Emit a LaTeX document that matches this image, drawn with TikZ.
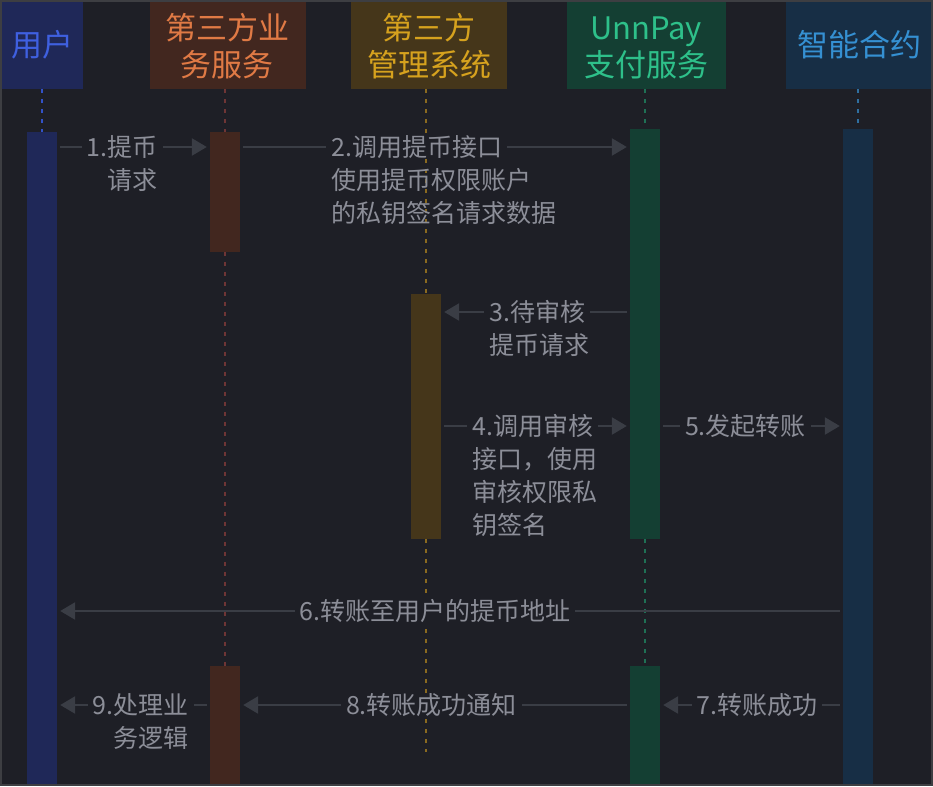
\documentclass[tikz,border=0pt]{standalone}
\usepackage{fontspec}
\setmainfont{Noto Sans CJK SC}
\usetikzlibrary{arrows.meta}
\definecolor{bgc}{HTML}{1E1F26}
\definecolor{cBorder}{HTML}{3D3E42}
\definecolor{cArrow}{HTML}{3A3D45}
\definecolor{cLabel}{HTML}{8C8E98}
\definecolor{cUserFill}{HTML}{1F2858}
\definecolor{cUserText}{HTML}{3F60E0}
\definecolor{cUserDash}{HTML}{3352C8}
\definecolor{cBizFill}{HTML}{42271F}
\definecolor{cBizText}{HTML}{E07A45}
\definecolor{cBizDash}{HTML}{6E3535}
\definecolor{cMgmtFill}{HTML}{45361A}
\definecolor{cMgmtText}{HTML}{D6A21E}
\definecolor{cMgmtDash}{HTML}{8A6A20}
\definecolor{cPayFill}{HTML}{143F33}
\definecolor{cPayText}{HTML}{2EC08A}
\definecolor{cPayDash}{HTML}{1F7055}
\definecolor{cConFill}{HTML}{172E45}
\definecolor{cConText}{HTML}{3590D2}
\definecolor{cConDash}{HTML}{2F6FA0}
\begin{document}
\begin{tikzpicture}[x=1pt,y=-1pt,
  hdr/.style={draw=none, inner sep=0pt, minimum height=89},
  htxt/.style={anchor=base, inner sep=0pt, font=\fontsize{31}{36}\selectfont},
  bar/.style={draw=none, inner sep=0pt, minimum width=30, anchor=north},
  life/.style={line width=2pt, dash pattern=on 4pt off 6pt},
  msg/.style={draw=cArrow, line width=2.5pt, -{Triangle[length=15pt,width=17pt]}, shorten <=3pt, shorten >=3pt},
  lbl/.style={text=cLabel, inner xsep=5pt, inner ysep=0pt, font=\fontsize{25}{33}\selectfont},
  lblf/.style={lbl, fill=bgc}
]
\useasboundingbox (0,0) rectangle (933,786);
\fill[bgc] (0,0) rectangle (933,786);

% headers
\node[hdr, fill=cUserFill, minimum width=83] (hUser) at (41.5,44.5) {};
\node[hdr, fill=cBizFill, minimum width=155.5] (hBiz) at (227.75,44.5) {};
\node[hdr, fill=cMgmtFill, minimum width=155.7] (hMgmt) at (428.85,44.5) {};
\node[hdr, fill=cPayFill, minimum width=159] (hPay) at (646.2,44.5) {};
\node[hdr, fill=cConFill, minimum width=147] (hCon) at (859.5,44.5) {};

\node[htxt, text=cUserText] (tUser) at (42,56.8) {用户};
\node[htxt, text=cBizText] (tBiz) at (227,39.3) {\begin{tabular}[t]{@{}c@{}}第三方业\\务服务\end{tabular}};
\node[htxt, text=cMgmtText] (tMgmt) at (429,39.3) {\begin{tabular}[t]{@{}c@{}}第三方\\管理系统\end{tabular}};
\node[htxt, text=cPayText] (tPay) at (646,39.3) {\begin{tabular}[t]{@{}c@{}}UnnPay\\支付服务\end{tabular}};
\node[htxt, text=cConText] (tCon) at (859,56.8) {智能合约};

% activation bars (nodes)
\node[bar, fill=cUserFill, minimum height=654] (uBar) at (42,132) {};
\node[bar, fill=cBizFill, minimum height=120] (bBar1) at (225,132) {};
\node[bar, fill=cBizFill, minimum height=120] (bBar2) at (225,666) {};
\node[bar, fill=cMgmtFill, minimum height=245] (mBar) at (426,294) {};
\node[bar, fill=cPayFill, minimum height=410] (pBar1) at (645,129) {};
\node[bar, fill=cPayFill, minimum height=120] (pBar2) at (645,666) {};
\node[bar, fill=cConFill, minimum height=657] (cBar) at (858,129) {};
\coordinate (mEnd) at (426,752);

% lifelines
\begin{scope}[on background layer/.style={}]
\end{scope}
\draw[life, cUserDash] (hUser.south -| uBar.north) -- (uBar.north);
\draw[life, cBizDash] (hBiz.south -| bBar1.north) -- (bBar1.north);
\draw[life, cBizDash] (bBar1.south) -- (bBar2.north);
\draw[life, cMgmtDash] (hMgmt.south -| mBar.north) -- (mBar.north);
\draw[life, cMgmtDash] (mBar.south) -- (mEnd);
\draw[life, cPayDash] (hPay.south -| pBar1.north) -- (pBar1.north);
\draw[life, cPayDash] (pBar1.south) -- (pBar2.north);
\draw[life, cConDash] (hCon.south -| cBar.north) -- (cBar.north);

% messages
\draw[msg] (uBar.east |- 0,147) -- (bBar1.west |- 0,147);
\draw[msg] (bBar1.east |- 0,147) -- (pBar1.west |- 0,147);
\draw[msg] (pBar1.west |- 0,312) -- (mBar.east |- 0,312);
\draw[msg] (mBar.east |- 0,426) -- (pBar1.west |- 0,426);
\draw[msg] (pBar1.east |- 0,426) -- (cBar.west |- 0,426);
\draw[msg] (cBar.west |- 0,611) -- (uBar.east |- 0,611);
\draw[msg] (cBar.west |- 0,705) -- (pBar2.east |- 0,705);
\draw[msg] (pBar2.west |- 0,705) -- (bBar2.east |- 0,705);
\draw[msg] (bBar2.west |- 0,705) -- (uBar.east |- 0,705);

% labels
\node[lblf, anchor=base east] (l1a) at (163,156.5) {1.提币};
\node[lbl, anchor=base east] (l1b) at (163,189.5) {请求};
\node[lblf, anchor=base west] (l2a) at (326,156.5) {2.调用提币接口};
\node[lbl, anchor=base west] (l2b) at (326,189.5) {\begin{tabular}[t]{@{}l@{}}使用提币权限账户\\的私钥签名请求数据\end{tabular}};
\node[lblf, anchor=base west] (l3a) at (484,321.5) {3.待审核};
\node[lbl, anchor=base west] (l3b) at (484,354.5) {提币请求};
\node[lblf, anchor=base west] (l4a) at (467,435.5) {4.调用审核};
\node[lbl, anchor=base west] (l4b) at (467,468.5) {\begin{tabular}[t]{@{}l@{}}接口，使用\\审核权限私\\钥签名\end{tabular}};
\node[lblf, anchor=base] (l5) at (745.5,435.5) {5.发起转账};
\node[lblf, anchor=base] (l6) at (435,620.5) {6.转账至用户的提币地址};
\node[lblf, anchor=base] (l7) at (757,714.5) {7.转账成功};
\node[lblf, anchor=base] (l8) at (431.5,714.5) {8.转账成功通知};
\node[lblf, anchor=base east] (l9a) at (194,714.5) {9.处理业};
\node[lbl, anchor=base east] (l9b) at (194,747.5) {务逻辑};

% frame
\draw[cBorder, line width=2pt] (1,1) rectangle (932,785);
\end{tikzpicture}
\end{document}
